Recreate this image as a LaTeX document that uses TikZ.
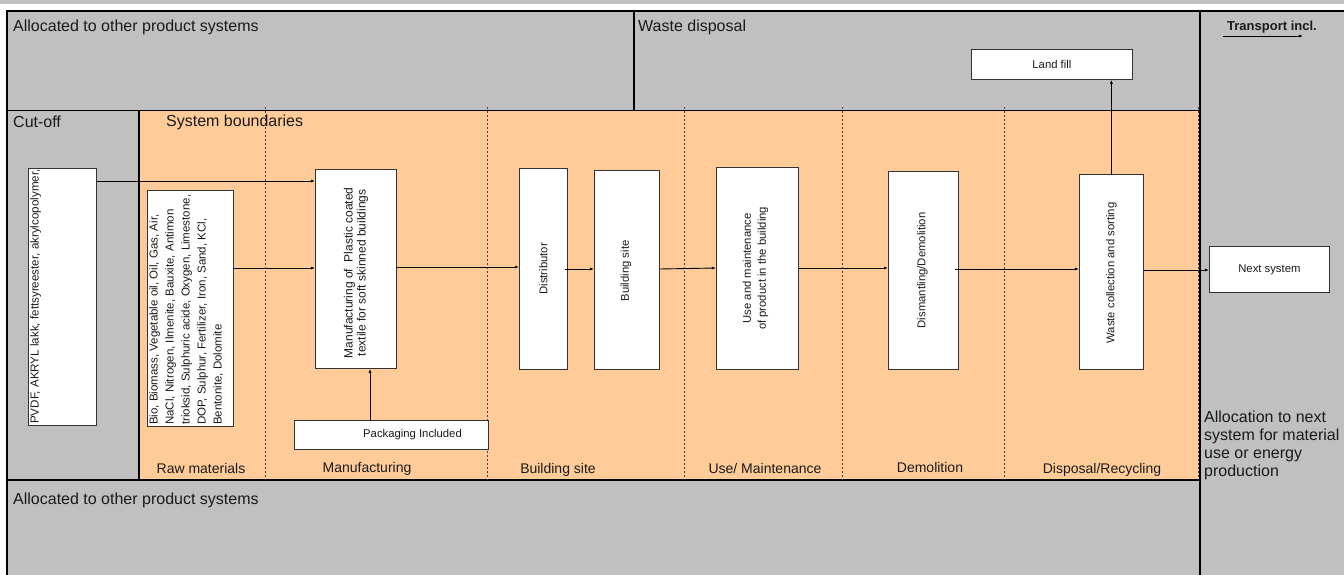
\documentclass[tikz,border=0pt]{standalone}
\usepackage{fontspec}
\setmainfont{Liberation Sans}
\usetikzlibrary{arrows.meta}
\definecolor{bggray}{HTML}{C0C0C0}
\definecolor{peach}{HTML}{FFCC99}
\definecolor{ink}{HTML}{1A1A1A}
\newcommand\fsz[2]{\fontsize{#1}{#2}\selectfont}
\begin{document}
\begin{tikzpicture}[x=1pt,y=-1pt,
  frameline/.style={draw=black, line width=1.1pt},
  phase/.style={draw=black!75, dash pattern=on 2pt off 2pt, line width=0.6pt},
  box/.style={draw=black!80, fill=white, line width=0.8pt, inner sep=0pt, anchor=north west},
  flow/.style={draw=black, line width=0.9pt, -{Latex[length=4pt,width=3pt]}},
  big/.style={font=\fsz{16}{18}, text=ink, inner sep=0pt},
  small/.style={font=\fsz{11.3}{14}, text=ink, inner sep=0pt},
  lbl/.style={font=\fsz{14}{16}, text=ink, inner sep=0pt}
]
\useasboundingbox (0,0) rectangle (1344,575);
% backgrounds
\fill[bggray] (0,0) rectangle (1344,4.5);
\fill[bggray] (7,11) rectangle (1344,575);
\fill[peach] (139,111) rectangle (1199.5,480);
% frame lines
\draw[frameline] (1344,11) -- (7,11) -- (7,575);
\draw[frameline] (7,110.5) -- (1200,110.5);
\draw[frameline] (7,480) -- (1200,480);
\draw[frameline] (634,11) -- (634,110.5);
\draw[frameline] (1200,11) -- (1200,575);
\draw[frameline] (139,110.5) -- (139,480);
% phase dividers
\foreach \px in {265,487,684,842,1004,1198}
  \draw[phase] (\px,107) -- (\px,480);
% region titles
\node[big, anchor=west] (topalloc) at (13,27) {Allocated to other product systems};
\node[big, anchor=west] (wastedisp) at (638,27) {Waste disposal};
\node[font=\bfseries\fsz{13}{15}, text=ink, inner sep=0pt, anchor=west] (transp) at (1227,27) {Transport incl.};
\coordinate (tA) at (1223,36);
\coordinate (tB) at (1303,36);
\draw[flow] (tA) -- (tB);
\node[big, anchor=west] (cutoff) at (13,122) {Cut-off};
\node[big, anchor=west] (sysb) at (166,122) {System boundaries};
\node[big, anchor=west] (botalloc) at (13,500) {Allocated to other product systems};
\node[big, anchor=north west, align=left] (alloc) at (1204,411) {Allocation to next\\system for material\\use or energy\\production};
% boxes
\node[box, minimum width=68pt, minimum height=257pt] (pvdf) at (28,168) {};
\node[box, minimum width=86pt, minimum height=236pt] (raw) at (147,190) {};
\node[box, minimum width=81pt, minimum height=199pt] (manuf) at (315,169) {};
\node[box, minimum width=194pt, minimum height=29pt] (pack) at (294,420) {};
\node[box, minimum width=48pt, minimum height=201pt] (dist) at (519,168) {};
\node[box, minimum width=65pt, minimum height=199pt] (bsite) at (594,170) {};
\node[box, minimum width=82pt, minimum height=202pt] (use) at (716,167) {};
\node[box, minimum width=70pt, minimum height=198pt] (dism) at (888,171) {};
\node[box, minimum width=64pt, minimum height=195pt] (waste) at (1079,174) {};
\node[box, minimum width=120pt, minimum height=46pt] (next) at (1209,246) {};
\node[box, minimum width=161pt, minimum height=30pt] (land) at (971,49) {};
% box texts
\node[font=\fsz{11.6}{14}, text=ink, inner sep=0pt, rotate=90, anchor=north west] (pvdfT) at (30,424) {PVDF, AKRYL lakk, fettsyreester, akrylcopolymer,};
\node[font=\fsz{11.5}{16}, text=ink, inner sep=0pt, rotate=90, anchor=north west, align=left] (rawT) at (149,425) {Bio, Biomass, Vegetable oil, Oil, Gas, Air,\\NaCl, Nitrogen, Ilmenite, Bauxite, Antimon\\trioksid, Sulphuric acide, Oxygen, Limestone,\\DOP, Sulphur, Fertilizer, Iron, Sand, KCl,\\Bentonite, Dolomite};
\node[font=\fsz{12}{13}, text=ink, inner sep=0pt, rotate=90, align=center] (manufT) at ([yshift=-4pt]manuf.center) {Manufacturing of~ Plastic coated\\textile for soft skinned buildings};
\node[small] (packT) at (412.5,435) {Packaging Included};
\node[small, rotate=90] (distT) at (dist.center) {Distributor};
\node[small, rotate=90] (bsiteT) at ([xshift=-1pt,yshift=-1pt]bsite.center) {Building site};
\node[small, rotate=90, align=center, font=\fsz{11.3}{15}] (useT) at ([xshift=-2pt]use.center) {Use and maintenance\\of product in the building};
\node[small, rotate=90] (dismT) at ([xshift=-1pt]dism.center) {Dismantling/Demolition};
\node[small, rotate=90] (wasteT) at ([yshift=-1pt]waste.center) {Waste collection and sorting};
\node[small] (nextT) at (next.center) {Next system};
\node[small] (landT) at (land.center) {Land fill};
% phase labels (clipped at bottom as in the source)
\begin{scope}
\clip (139,111) rectangle (1199,476);
\node[lbl] (lraw) at (201,468) {Raw materials};
\node[lbl] (lman) at (367,469) {Manufacturing};
\node[lbl] (lbs) at (558,470) {Building site};
\node[lbl] (luse) at (765,468) {Use/ Maintenance};
\node[lbl] (ldem) at (930,467) {Demolition};
\node[lbl] (ldis) at (1102,470) {Disposal/Recycling};
\end{scope}
% flows
\draw[flow] (pvdf.east |- 0,181) -- (manuf.west |- 0,181);
\draw[flow] (raw.east |- 0,268) -- (manuf.west |- 0,268);
\draw[flow] (manuf.east |- 0,267) -- (dist.west |- 0,267);
\draw[flow] ([xshift=-3pt]dist.east |- 0,269) -- (bsite.west |- 0,269);
\draw[flow] (bsite.east |- 0,269) -- (use.west |- 0,268);
\draw[flow] (use.east |- 0,268) -- (dism.west |- 0,268);
\draw[flow] ([xshift=-4pt]dism.east |- 0,269) -- (waste.west |- 0,269);
\draw[flow] (waste.east |- 0,270) -- (next.west |- 0,270);
\draw[flow] (waste.north) -- (waste.north |- land.south);
\draw[flow] (pack.north -| 370,0) -- (manuf.south -| 370,0);
\end{tikzpicture}
\end{document}
